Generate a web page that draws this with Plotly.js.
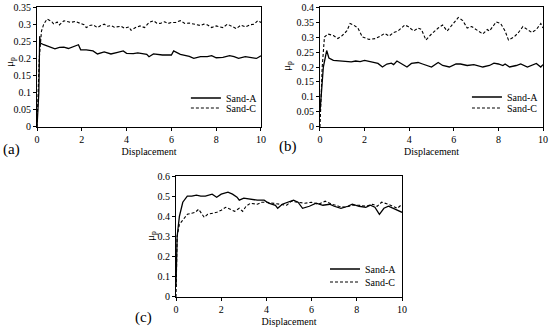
<!DOCTYPE html>
<html>
<head>
<meta charset="utf-8">
<script src="https://cdn.plot.ly/plotly-3.0.1.min.js"></script>
<style>html,body{margin:0;padding:0;background:#fff}#chart{width:550px;height:334px}</style>
</head>
<body>
<div id="chart"></div>
<script>
// Panel (a)
const aX_A = [0,0.08,0.12,0.15,0.3,0.5,0.65,0.8,1.0,1.2,1.4,1.6,1.75,1.85,1.95,2.2,2.5,2.7,3.0,3.3,3.6,3.85,4.0,4.3,4.5,4.7,4.9,5.0,5.2,5.6,6.0,6.1,6.4,6.8,7.0,7.3,7.6,7.8,8.0,8.3,8.6,8.8,9.0,9.3,9.6,9.8,10];
const aY_A = [0,0.1,0.265,0.245,0.24,0.235,0.232,0.228,0.232,0.233,0.229,0.234,0.236,0.24,0.225,0.225,0.222,0.213,0.219,0.213,0.218,0.222,0.215,0.214,0.216,0.213,0.212,0.205,0.213,0.21,0.21,0.222,0.212,0.206,0.2,0.205,0.205,0.208,0.202,0.203,0.208,0.205,0.2,0.205,0.202,0.2,0.208];
const aX_C = [0,0.1,0.2,0.3,0.45,0.55,0.65,0.75,0.9,1.0,1.2,1.35,1.5,1.7,1.9,2.1,2.2,2.35,2.5,2.7,2.85,3.0,3.15,3.3,3.45,3.6,3.75,3.9,4.1,4.2,4.4,4.6,4.8,5.0,5.2,5.35,5.5,5.7,5.85,6.0,6.2,6.4,6.6,6.8,7.0,7.15,7.3,7.45,7.6,7.8,8.0,8.15,8.3,8.5,8.7,8.9,9.1,9.3,9.5,9.7,9.85,10];
const aY_C = [0,0.2,0.28,0.3,0.315,0.312,0.308,0.3,0.306,0.298,0.31,0.308,0.305,0.308,0.304,0.298,0.29,0.296,0.298,0.29,0.296,0.3,0.294,0.296,0.291,0.292,0.294,0.288,0.292,0.282,0.29,0.295,0.29,0.305,0.31,0.303,0.302,0.307,0.302,0.305,0.305,0.31,0.302,0.303,0.3,0.297,0.296,0.3,0.298,0.29,0.295,0.292,0.29,0.3,0.293,0.287,0.297,0.292,0.298,0.3,0.31,0.305];

// Panel (b)
const bX_A = [0,0.15,0.3,0.4,0.6,0.8,1.0,1.2,1.4,1.6,1.8,2.0,2.3,2.6,2.8,3.0,3.2,3.3,3.45,3.7,3.9,4.1,4.4,4.6,4.8,5.0,5.3,5.5,5.8,6.1,6.3,6.6,6.9,7.1,7.3,7.6,7.8,8.0,8.2,8.3,8.5,8.8,9.0,9.3,9.5,9.7,9.9,10];
const bY_A = [0.05,0.2,0.255,0.23,0.222,0.221,0.219,0.218,0.217,0.22,0.218,0.222,0.218,0.212,0.2,0.21,0.213,0.208,0.22,0.21,0.2,0.212,0.215,0.21,0.205,0.2,0.215,0.205,0.2,0.21,0.21,0.205,0.208,0.205,0.2,0.205,0.213,0.21,0.205,0.21,0.2,0.205,0.21,0.2,0.205,0.212,0.2,0.208];
const bX_C = [0,0.1,0.2,0.35,0.6,0.8,1.0,1.2,1.35,1.5,1.7,1.9,2.2,2.5,2.7,2.9,3.1,3.3,3.5,3.8,3.95,4.2,4.4,4.55,4.75,5.0,5.3,5.5,5.7,6.0,6.2,6.4,6.6,6.8,7.1,7.3,7.5,7.6,7.8,7.9,8.1,8.3,8.45,8.7,8.9,9.1,9.3,9.5,9.7,9.9,10];
const bY_C = [0,0.2,0.3,0.31,0.305,0.295,0.305,0.32,0.345,0.34,0.33,0.3,0.292,0.295,0.303,0.312,0.303,0.315,0.32,0.34,0.335,0.32,0.33,0.325,0.29,0.31,0.33,0.34,0.32,0.345,0.365,0.355,0.33,0.335,0.32,0.31,0.325,0.32,0.34,0.35,0.345,0.32,0.29,0.3,0.315,0.335,0.325,0.315,0.325,0.345,0.33];

// Panel (c)
const cX_A = [0,0.05,0.15,0.3,0.5,0.7,0.9,1.1,1.3,1.6,1.8,2.0,2.3,2.5,2.7,2.8,3.0,3.3,3.6,3.9,4.1,4.4,4.5,4.7,5.0,5.2,5.4,5.6,5.9,6.2,6.5,6.8,7.0,7.3,7.6,7.8,8.1,8.4,8.6,8.8,9.0,9.2,9.4,9.6,9.8,10];
const cY_A = [0.05,0.3,0.4,0.47,0.5,0.5,0.505,0.5,0.5,0.51,0.495,0.51,0.52,0.51,0.495,0.48,0.49,0.485,0.48,0.48,0.465,0.455,0.44,0.46,0.47,0.48,0.47,0.44,0.45,0.465,0.455,0.46,0.45,0.44,0.45,0.46,0.45,0.445,0.455,0.445,0.41,0.44,0.45,0.44,0.43,0.42];
const cX_C = [0,0.05,0.15,0.3,0.5,0.7,0.85,1.0,1.15,1.25,1.4,1.6,1.8,2.0,2.2,2.4,2.6,2.8,2.95,3.1,3.3,3.6,3.8,4.0,4.3,4.6,4.9,5.1,5.4,5.7,6.0,6.3,6.6,6.9,7.2,7.5,7.8,8.1,8.4,8.7,8.9,9.1,9.4,9.6,9.8,10];
const cY_C = [0,0.3,0.36,0.38,0.41,0.415,0.42,0.435,0.41,0.395,0.41,0.415,0.42,0.43,0.445,0.435,0.425,0.44,0.425,0.45,0.465,0.46,0.47,0.47,0.465,0.46,0.455,0.475,0.47,0.465,0.47,0.46,0.475,0.46,0.45,0.445,0.455,0.455,0.45,0.46,0.45,0.47,0.46,0.45,0.44,0.46];

const seriesNames = ['Sand-A','Sand-C'];
const panelLabels = ['(a)','(b)','(c)'];
const xTitle = 'Displacement';
const yTitle = 'μ<sub>p</sub>';

const FONT = "'Liberation Serif', serif";
const solid = {color:'#000', width:1.3};
const dashed = {color:'#000', width:1.1, dash:'3px,2px'};

const traces = [
  {x:aX_A, y:aY_A, xaxis:'x', yaxis:'y', name:seriesNames[0], line:solid, mode:'lines', legend:'legend'},
  {x:aX_C, y:aY_C, xaxis:'x', yaxis:'y', name:seriesNames[1], line:dashed, mode:'lines', legend:'legend2'},
  {x:bX_A, y:bY_A, xaxis:'x2', yaxis:'y2', name:seriesNames[0], line:solid, mode:'lines', legend:'legend3'},
  {x:bX_C, y:bY_C, xaxis:'x2', yaxis:'y2', name:seriesNames[1], line:dashed, mode:'lines', legend:'legend4'},
  {x:cX_A, y:cY_A, xaxis:'x3', yaxis:'y3', name:seriesNames[0], line:solid, mode:'lines', legend:'legend5'},
  {x:cX_C, y:cY_C, xaxis:'x3', yaxis:'y3', name:seriesNames[1], line:dashed, mode:'lines', legend:'legend6'}
];

function xa(domain, anchor){
  return {domain:domain, anchor:anchor, range:[0,10], dtick:2, showgrid:false, zeroline:false,
    showline:true, mirror:true, linecolor:'#000', linewidth:1, ticks:'outside', ticklen:3, tickcolor:'#000',
    tickfont:{family:FONT,size:10,color:'#000'},
    title:{text:xTitle, font:{family:FONT,size:10,color:'#000'}, standoff:4}};
}
function ya(domain, anchor, range, dtick){
  return {domain:domain, anchor:anchor, range:range, dtick:dtick, showgrid:false, zeroline:false,
    showline:true, mirror:true, linecolor:'#000', linewidth:1, ticks:'outside', ticklen:3, tickcolor:'#000',
    tickfont:{family:FONT,size:10,color:'#000'}};
}
function lg(x, y){
  return {x:x, y:y, xanchor:'left', yanchor:'middle', bgcolor:'rgba(0,0,0,0)', borderwidth:0,
    font:{family:FONT,size:10,color:'#000'}, itemwidth:30, tracegroupgap:0};
}
function ytitle(x, y){
  return {text:yTitle, xref:'paper', yref:'paper', x:x/550, y:1-y/334, xanchor:'center', yanchor:'middle',
    textangle:-90, showarrow:false, font:{family:FONT,size:11,color:'#000'}};
}
function plabel(text, x, y){
  return {text:text, xref:'paper', yref:'paper', x:x/550, y:1-y/334, xanchor:'left', yanchor:'middle',
    showarrow:false, font:{family:FONT,size:15,color:'#000'}};
}

const layout = {
  width:550, height:334, margin:{l:0,r:0,t:0,b:0},
  paper_bgcolor:'#fff', plot_bgcolor:'#fff', showlegend:true,
  font:{family:FONT,color:'#000'},
  xaxis: xa([0.0673,0.4745],'y'),
  yaxis: ya([0.6198,0.979],'x',[0,0.35],0.05),
  xaxis2: xa([0.5818,0.9873],'y2'),
  yaxis2: ya([0.6198,0.979],'x2',[0,0.4],0.05),
  xaxis3: xa([0.32,0.7309],'y3'),
  yaxis3: ya([0.1108,0.473],'x3',[0,0.6],0.1),
  legend: lg(0.338,0.7066),
  legend2: lg(0.338,0.6766),
  legend3: lg(0.849,0.7096),
  legend4: lg(0.849,0.6766),
  legend5: lg(0.5909,0.1946),
  legend6: lg(0.5909,0.1557),
  annotations:[
    ytitle(10,62), ytitle(287,66), ytitle(151,236),
    plabel(panelLabels[0], 1, 149),
    plabel(panelLabels[1], 277, 146),
    plabel(panelLabels[2], 133, 317)
  ]
};

Plotly.newPlot('chart', traces, layout, {staticPlot:true, displayModeBar:false});
</script>
</body>
</html>
